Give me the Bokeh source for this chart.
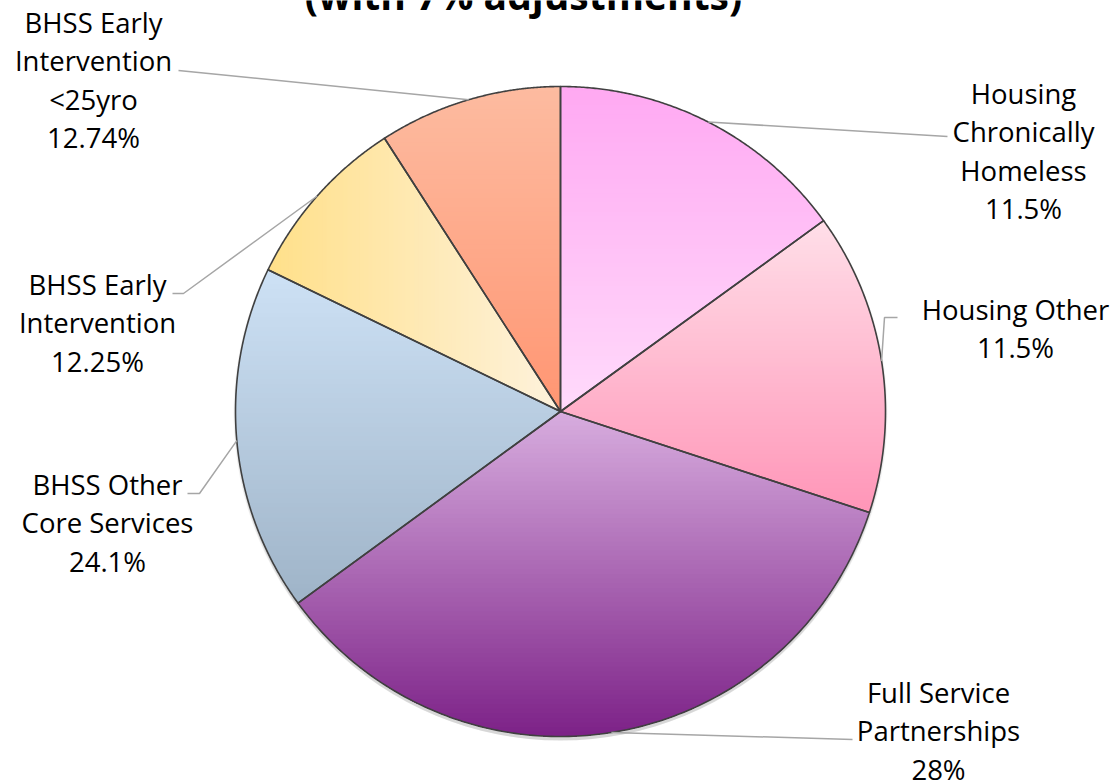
import numpy as np
from bokeh.plotting import figure
from bokeh.models import Range1d
from bokeh.core.properties import value
from bokeh.embed import file_html
from bokeh.resources import INLINE

# ---------------- data ----------------
categories = ["Housing Chronically Homeless", "Housing Other", "Full Service Partnerships",
              "BHSS Other Core Services", "BHSS Early Intervention", "BHSS Early Intervention <25yro"]
shares = [15.0, 15.0, 34.9, 17.2, 8.7, 9.1]          # slice sizes as drawn (percent of circle)
label_lines = [["Housing", "Chronically", "Homeless", "11.5%"],
               ["Housing Other", "11.5%"],
               ["Full Service", "Partnerships", "28%"],
               ["BHSS Other", "Core Services", "24.1%"],
               ["BHSS Early", "Intervention", "12.25%"],
               ["BHSS Early", "Intervention", "<25yro", "12.74%"]]
title_text = "(with 7% adjustments)"

# ---------------- style ----------------
grad_a = ["#FFA9F2", "#FFDEE8", "#D7ACDE", "#CDE1F5", "#FFE08A", "#FDBBA0"]
grad_b = ["#FFDAFB", "#FF96B8", "#7D2288", "#9FB4C8", "#FEF2DC", "#FF9673"]
grad_dir = ["v", "v", "v", "v", "h", "v"]

W, H = 1114, 781
CX, CY, R = 560, 411, 325          # pixel coordinates (y from top)
FONT = value("Open Sans")
LINE_GAP = 38.6
TEXT_SHIFT = 9.5                   # renderer places glyph text a bit lower than the baseline
TITLE_SHIFT = 11

# label anchors: (center x, first baseline y from top)
label_pos = [(1023, 102), (1015, 318), (938, 701), (107, 493), (97, 293), (93, 31)]
# leader elbows after the arc midpoint (pixel coords)
leader_tail = [[(947, 136)],
               [(884, 317), (897, 317)],
               [(852, 739)],
               [(199, 493), (187, 493)],
               [(183, 293), (172, 293)],
               [(178, 70)]]


def yd(py):
    return H - py


def hex2rgb(h):
    h = h.lstrip("#")
    return np.array([int(h[i:i + 2], 16) for i in (0, 2, 4)], dtype=float)


def mix(c1, c2, t):
    c = hex2rgb(c1) * (1 - t) + hex2rgb(c2) * t
    return "#%02x%02x%02x" % tuple(int(round(v)) for v in c)


def clip(poly, axis, thr, keep_le):
    out = []
    n = len(poly)
    for i in range(n):
        a = poly[i]
        b = poly[(i + 1) % n]
        ina = (a[axis] <= thr) if keep_le else (a[axis] >= thr)
        inb = (b[axis] <= thr) if keep_le else (b[axis] >= thr)
        if ina:
            out.append(a)
        if ina != inb:
            t = (thr - a[axis]) / (b[axis] - a[axis])
            out.append((a[0] + t * (b[0] - a[0]), a[1] + t * (b[1] - a[1])))
    return out


def wedge_poly(b0, b1):
    bs = np.radians(np.linspace(b0, b1, 160))
    pts = [(CX, yd(CY))]
    pts += [(CX + R * np.sin(b), yd(CY) + R * np.cos(b)) for b in bs]
    return pts


p = figure(width=W, height=H, x_range=Range1d(0, W), y_range=Range1d(0, H),
           output_backend="svg", toolbar_location=None, min_border=0,
           x_axis_location=None, y_axis_location=None)
p.grid.visible = False
p.outline_line_color = None
p.background_fill_color = "white"
p.border_fill_color = "white"

# soft shadow
for k, a in enumerate([0.05, 0.05, 0.06]):
    p.circle(x=[CX], y=[yd(CY) - 2 - k], radius=R + 2 - k, fill_color="#000000",
             fill_alpha=a, line_color=None)

total = sum(shares)
bounds = np.concatenate([[0], np.cumsum(shares) / total * 360.0])

xs, ys, cols = [], [], []
outline_xs, outline_ys = [], []
mids = []
N = 70
for i in range(len(shares)):
    b0, b1 = bounds[i], bounds[i + 1]
    mids.append((b0 + b1) / 2)
    poly = wedge_poly(b0, b1)
    px = [q[0] for q in poly]
    py = [q[1] for q in poly]
    outline_xs.append(px)
    outline_ys.append(py)
    if grad_dir[i] == "v":
        hi, lo = max(py), min(py)
        for k in range(N):
            thr = hi - k * (hi - lo) / N
            part = clip(poly, 1, thr + 0.01, True) if k else poly
            if len(part) < 3:
                continue
            xs.append([q[0] for q in part])
            ys.append([q[1] for q in part])
            cols.append(mix(grad_a[i], grad_b[i], k / (N - 1)))
    else:
        lo, hi = min(px), max(px)
        for k in range(N):
            thr = lo + k * (hi - lo) / N
            part = clip(poly, 0, thr - 0.01, False) if k else poly
            if len(part) < 3:
                continue
            xs.append([q[0] for q in part])
            ys.append([q[1] for q in part])
            cols.append(mix(grad_a[i], grad_b[i], k / (N - 1)))

p.patches(xs=xs, ys=ys, fill_color=cols, line_color=None)
p.patches(xs=outline_xs, ys=outline_ys, fill_color=None, line_color="#404040",
          line_width=1.6, line_join="round")

# leader lines
lx, ly = [], []
for i, m in enumerate(mids):
    mb = np.radians(m)
    pts = [(CX + R * np.sin(mb), CY - R * np.cos(mb))] + leader_tail[i]
    lx.append([q[0] for q in pts])
    ly.append([yd(q[1]) for q in pts])
p.multi_line(xs=lx, ys=ly, line_color="#A6A6A6", line_width=1.5)

# labels
tx, ty, tt = [], [], []
for i, lines in enumerate(label_lines):
    cx, by = label_pos[i]
    for j, s in enumerate(lines):
        tx.append(cx)
        ty.append(yd(by + j * LINE_GAP - TEXT_SHIFT))
        tt.append(s)
p.text(x=tx, y=ty, text=tt, text_font=FONT, text_font_size="27.5px",
       text_color="#000000", text_align="center", text_baseline="alphabetic")

# title (top part falls outside the page, as in the reference)
p.text(x=[523], y=[yd(5 - TITLE_SHIFT)], text=[title_text], text_font=FONT,
       text_font_style="bold", text_font_size="39px", text_color="#000000",
       text_align="center", text_baseline="alphabetic")

open("out.html", "w").write(file_html(p, INLINE))
